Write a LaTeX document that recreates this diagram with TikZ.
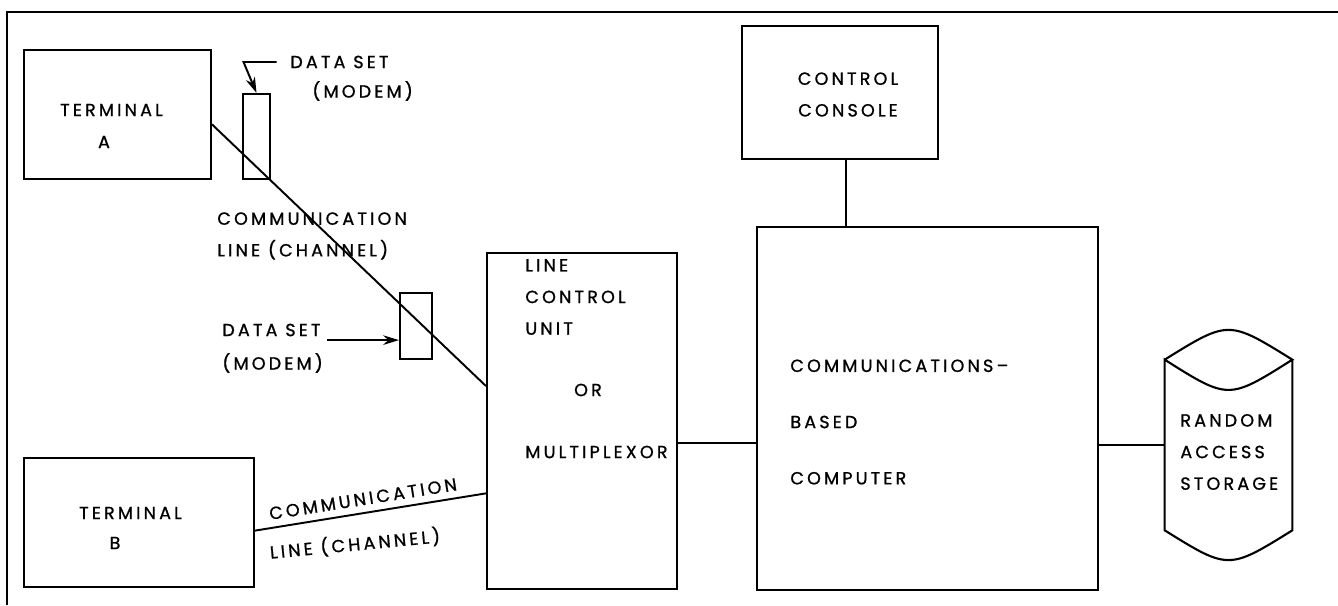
\documentclass[tikz,border=0pt]{standalone}
\usepackage{fontspec}
\newfontfamily\schemafont[LetterSpace=18, FakeBold=1]{Poppins}
\usepackage{tikz}
\usetikzlibrary{arrows.meta}

\begin{document}
\begin{tikzpicture}[x=0.02cm, y=0.02cm,
        blocco/.style={draw, line width=1.2pt, inner sep=0pt},
        testo/.style={font=\schemafont\fontsize{10}{18}\selectfont, inner sep=2pt},
        linea/.style={line width=1.1pt},
        freccia/.style={line width=1.1pt, -{Stealth[length=9pt,width=5.5pt]}}]
            \useasboundingbox (0,0) rectangle (1338,605);

            % Cornice
            \draw[line width=1.2pt] (7,0) -- (7,593) -- (1338,593);

            % Terminali
            \node[blocco, minimum width=3.74cm, minimum height=2.58cm] (termA) at (117.5,490.5) {};
            \node[blocco, minimum width=4.6cm, minimum height=2.58cm] (termB) at (139,82.5) {};
            \node[testo] (tA1) at (111.5,495) {TERMINAL};
            \node[testo] (tA2) at (104,463) {A};
            \node[testo] (tB1) at (130.5,92) {TERMINAL};
            \node[testo] (tB2) at (115,62) {B};

            % Modem
            \node[blocco, minimum width=0.54cm, minimum height=1.7cm] (modemA) at (256.5,468.5) {};
            \node[blocco, minimum width=0.64cm, minimum height=1.32cm] (modemB) at (416,279) {};

            % Unita' di controllo linea
            \node[blocco, minimum width=3.8cm, minimum height=6.72cm] (lcu) at (582,184) {};
            \node[testo, anchor=west, align=left] (lcuT) at (521.5,308) {LINE\\CONTROL\\UNIT};
            \node[testo] (lcuOr) at (588,215) {OR};
            \node[testo, anchor=west] (lcuMux) at (521.5,153) {MULTIPLEXOR};

            % Console e calcolatore
            \node[blocco, minimum width=3.92cm, minimum height=2.66cm] (console) at (840,512.5) {};
            \node[testo, align=center] (consT) at (848,510.5) {CONTROL\\CONSOLE};
            \node[blocco, minimum width=6.82cm, minimum height=7.26cm] (cpu) at (927.5,196.5) {};
            \node[testo, anchor=west, align=left] (cpuT) at (786.5,183) {COMMUNICATIONS–\\[14pt]BASED\\[14pt]COMPUTER};

            % Memoria ad accesso casuale
            \node[minimum width=2.54cm, minimum height=3.4cm, inner sep=0pt] (storage) at (1228.5,160) {};
            \draw[line width=1.2pt] (storage.north west) .. controls (1228.5,285) .. (storage.north east)
                .. controls (1228.5,205) .. (storage.north west) -- (storage.south west)
                .. controls (1228.5,35) .. (storage.south east) -- (storage.north east);
            \node[testo, anchor=west, align=left] (storT) at (1176.5,153) {RANDOM\\ACCESS\\STORAGE};

            % Linee di comunicazione
            \draw[linea] (termA.-6.4) -- (lcu.160.3);
            \node[testo, anchor=west, align=left] (clA) at (213.5,369) {COMMUNICATION\\LINE (CHANNEL)};
            \draw[linea] (termB.-4.7) -- (lcu.217.5);
            \node[testo, rotate=9] (clB1) at (363,106) {COMMUNICATION};
            \node[testo, rotate=5.5] (clB2) at (355,61) {LINE (CHANNEL)};

            % Data set
            \node[testo, anchor=west] (dsA) at (286.5,543) {DATA SET};
            \node[testo, anchor=west] (mdA) at (308.5,514) {(MODEM)};
            \draw[freccia] ([xshift=-0.2cm]dsA.west) -- ++(-33,0) -- (modemA.north);
            \node[testo, anchor=west] (dsB) at (218.5,275) {DATA SET};
            \node[testo, anchor=west] (mdB) at (218.5,242) {(MODEM)};
            \draw[freccia] (dsB.south east) ++(3,0) -- (dsB.south east -| modemB.west);

            % Collegamenti
            \draw[linea] (lcu.-13) -- (lcu.-13 -| cpu.west);
            \draw[linea] (console.-85) -- (console.-85 |- cpu.north);
            \draw[linea] (storage.west) -- (storage.west -| cpu.east);
\end{tikzpicture}
\end{document}
